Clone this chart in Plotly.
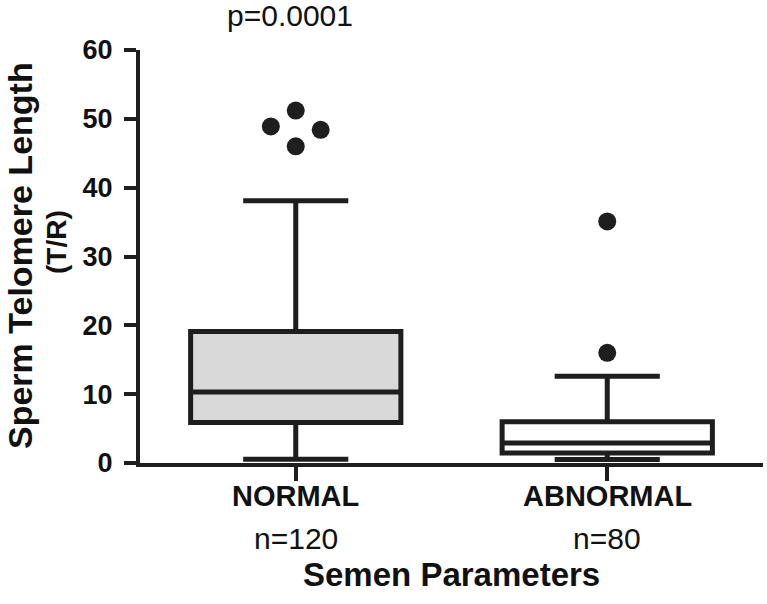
import plotly.graph_objects as go

# ---- data ----
categories = ["NORMAL", "ABNORMAL"]
counts = ["n=120", "n=80"]
q1 = [5.9, 1.45]
median = [10.3, 2.9]
q3 = [19.1, 6.0]
lower_whisker = [0.55, 0.5]
upper_whisker = [38.1, 12.6]
box_fill = ["#d9d9d9", "#ffffff"]

normal_outliers = [48.9, 51.2, 46.0, 48.4]
normal_outlier_offsets = [-0.08, 0.0, 0.0, 0.08]
abnormal_outliers = [35.1, 16.0]
abnormal_outlier_offsets = [0.0, 0.0]

y_ticks = [0, 10, 20, 30, 40, 50, 60]
p_value_text = "p=0.0001"

FONT = "Liberation Sans, Arial, sans-serif"
INK = "#1e1e1e"

fig = go.Figure()
for i, cat in enumerate(categories):
    fig.add_trace(go.Box(
        x=[i], q1=[q1[i]], median=[median[i]], q3=[q3[i]],
        lowerfence=[lower_whisker[i]], upperfence=[upper_whisker[i]],
        width=0.675, whiskerwidth=0.5,
        fillcolor=box_fill[i], line=dict(color=INK, width=5),
        boxpoints=False, showlegend=False, name=cat, hoverinfo="skip",
    ))

out_x = [0 + o for o in normal_outlier_offsets] + [1 + o for o in abnormal_outlier_offsets]
out_y = normal_outliers + abnormal_outliers
fig.add_trace(go.Scatter(
    x=out_x, y=out_y, mode="markers",
    marker=dict(size=18, color=INK), showlegend=False, cliponaxis=False,
))

W, H = 767, 604
L, R, T, B = 140, 4, 50, 141
PH = H - T - B

def py(pix):
    return (H - B - pix) / PH

def px(pix):
    return (pix - L) / (W - L - R)

ann = []
for i, cat in enumerate(categories):
    ann.append(dict(x=i, xref="x", y=py(496), yref="paper", text="<b>%s</b>" % cat,
                    showarrow=False, xanchor="center", yanchor="middle",
                    font=dict(family=FONT, size=29, color="#111")))
    ann.append(dict(x=i, xref="x", y=py(538), yref="paper", text=counts[i],
                    showarrow=False, xanchor="center", yanchor="middle",
                    font=dict(family=FONT, size=30, color="#111")))
ann.append(dict(x=0.5, xref="paper", y=py(574), yref="paper", text="<b>Semen Parameters</b>",
                showarrow=False, xanchor="center", yanchor="middle",
                font=dict(family=FONT, size=33, color="#111")))
ann.append(dict(x=-0.02, xref="x", y=py(15), yref="paper", text=p_value_text,
                showarrow=False, xanchor="center", yanchor="middle",
                font=dict(family=FONT, size=30, color="#111")))
ann.append(dict(x=px(20), xref="paper", y=py(256), yref="paper", text="<b>Sperm Telomere Length</b>",
                showarrow=False, xanchor="center", yanchor="middle", textangle=-90,
                font=dict(family=FONT, size=34, color="#111")))
ann.append(dict(x=px(56), xref="paper", y=py(242), yref="paper", text="<b>(T/R)</b>",
                showarrow=False, xanchor="center", yanchor="middle", textangle=-90,
                font=dict(family=FONT, size=28, color="#111")))

fig.update_layout(
    width=W, height=H,
    margin=dict(l=L, r=R, t=T, b=B, pad=0),
    paper_bgcolor="white", plot_bgcolor="white",
    boxmode="overlay",
    annotations=ann,
    xaxis=dict(range=[-0.5, 1.5], tickvals=[0, 1], showticklabels=False,
               ticks="outside", ticklen=14, tickwidth=4, tickcolor=INK,
               showline=True, linewidth=4, linecolor=INK,
               showgrid=False, zeroline=False, fixedrange=True),
    yaxis=dict(range=[0, 60], tickvals=y_ticks, ticks="outside", ticklen=12,
               tickwidth=4, tickcolor=INK, showline=True, linewidth=4, linecolor=INK,
               showgrid=False, zeroline=False, ticklabelstandoff=6,
               tickfont=dict(family=FONT, size=27, color="#111", weight="bold")),
)

fig.write_html("out.html", config={"displayModeBar": False},
               post_script="document.body.style.margin='0';")
